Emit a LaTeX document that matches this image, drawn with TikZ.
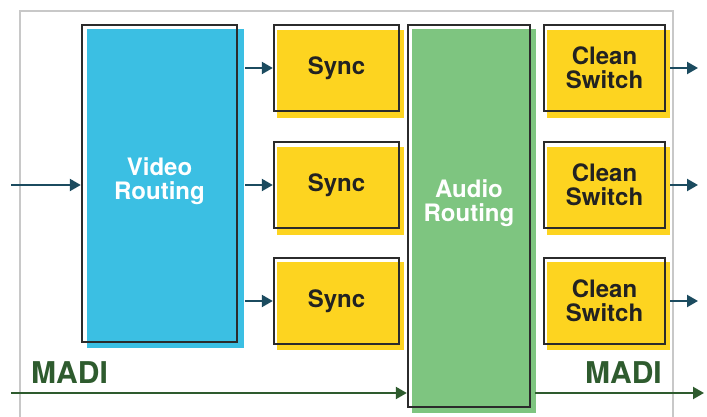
\documentclass[tikz,border=0pt]{standalone}
\usepackage{fontspec}
\setmainfont{TeX Gyre Heros}
\usetikzlibrary{arrows.meta,backgrounds}
\definecolor{vblue}{HTML}{3BBFE3}
\definecolor{agreen}{HTML}{7EC580}
\definecolor{syel}{HTML}{FDD420}
\definecolor{arrc}{HTML}{1B4B5F}
\definecolor{madig}{HTML}{2E5B2E}
\definecolor{outl}{HTML}{2B2B2B}
\definecolor{framec}{HTML}{C8C8C8}
\definecolor{txtdark}{HTML}{222222}
\begin{document}
\begin{tikzpicture}[x=1pt,y=1pt,
  outlinebox/.style={draw=outl, line width=2.4pt, inner sep=0pt},
  boxtext/.style={inner sep=0pt, align=center, font=\fontsize{24}{24}\selectfont\bfseries},
  smallbox/.style={outlinebox, boxtext, text=txtdark, minimum width=125pt, minimum height=86pt},
  cleanbox/.style={outlinebox, boxtext, text=txtdark, minimum width=121pt, minimum height=86pt},
  arr/.style={draw=arrc, line width=2.2pt, -{Triangle[length=11pt,width=12pt]}},
  madiarr/.style={draw=madig, line width=2.2pt, -{Triangle[length=11pt,width=12pt]}},
  maditext/.style={inner sep=0pt, text=madig, font=\fontsize{30}{30}\selectfont\bfseries}
]
\useasboundingbox (0,0) rectangle (707,417);

% blocks (outlines)
\node[outlinebox, minimum width=155pt, minimum height=317pt] (v) at (159.5,233.5) {};
\node[smallbox] (s1) at (336.5,349) {Sync};
\node[smallbox] (s2) at (336.5,232) {Sync};
\node[smallbox] (s3) at (336.5,116) {Sync};
\node[outlinebox, minimum width=122pt, minimum height=382pt] (a) at (469,201) {};
\node[cleanbox] (c1) at (604.5,349) {Clean\\Switch};
\node[cleanbox] (c2) at (604.5,232) {Clean\\Switch};
\node[cleanbox] (c3) at (604.5,116) {Clean\\Switch};

% coloured fills behind, offset
\begin{scope}[on background layer]
  \draw[framec, line width=1.5pt] (20,-5) -- (20,406) -- (673,406) -- (673,-5);
  \foreach \n/\c/\dx/\dy in {v/vblue/6/-5, a/agreen/5/-5,
      s1/syel/4/-6, s2/syel/4/-6, s3/syel/4/-5,
      c1/syel/4/-6, c2/syel/4/-6, c3/syel/4/-5}
    \fill[\c] ([shift={(\dx,\dy)}]\n.south west) rectangle ([shift={(\dx,\dy)}]\n.north east);
\end{scope}

% texts of big blocks
\node[boxtext, text=white] (vt) at ([yshift=2.5pt]v.center) {Video\\Routing};
\node[boxtext, text=white] (atx) at ([yshift=13pt]a.center) {Audio\\Routing};

% input arrow
\coordinate (vin) at (11,232);
\draw[arr] (vin) -- (vin -| v.west);

% video routing to sync
\draw[arr] (v.east |- s1.west) ++(7,0) -- (s1.west);
\draw[arr] (v.east |- s2.west) ++(7,0) -- (s2.west);
\draw[arr] (v.east |- s3.west) ++(7,0) -- (s3.west);

% clean switch outputs
\coordinate (o1) at (698,349);
\coordinate (o2) at (698,232);
\coordinate (o3) at (698,116);
\draw[arr] (c1.east) ++(4,0) -- (o1);
\draw[arr] (c2.east) ++(4,0) -- (o2);
\draw[arr] (c3.east) ++(4,0) -- (o3);

% MADI
\coordinate (mi) at (11,24);
\coordinate (mo) at (704,24);
\draw[madiarr] (mi) -- (mi -| a.west);
\draw[madiarr] (a.east |- mo) ++(4,0) -- (mo);
\node[maditext, anchor=base west] (ml) at (31,33) {MADI};
\node[maditext, anchor=base east] (mr) at (662,33) {MADI};
\end{tikzpicture}
\end{document}
